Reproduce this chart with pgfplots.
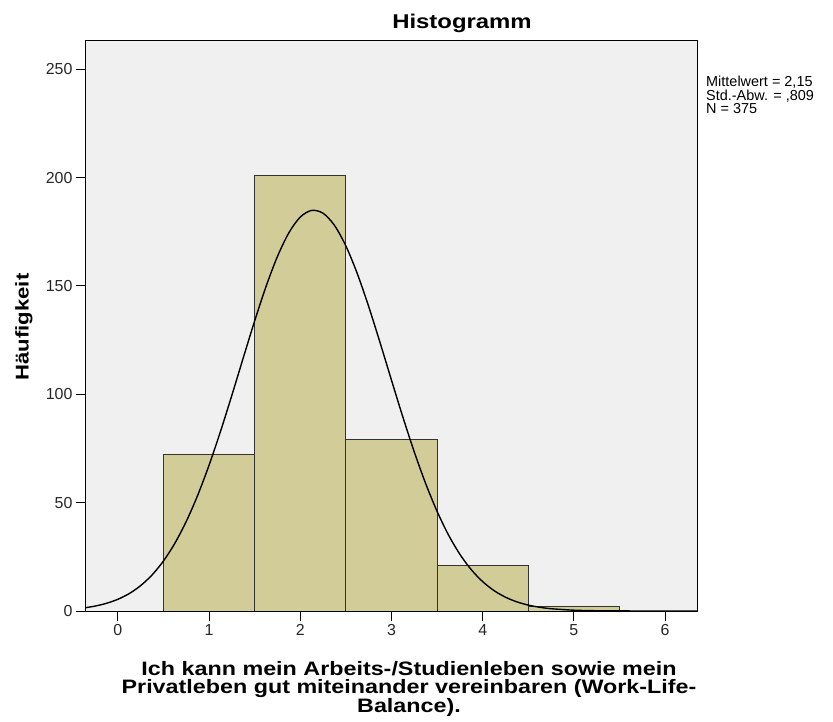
\documentclass[border=0pt]{standalone}
\usepackage{fontspec}
\setmainfont{Liberation Sans}
\usepackage{pgfplots}
\pgfplotsset{compat=1.18}

\definecolor{barfill}{RGB}{210,205,152}
\definecolor{plotbg}{RGB}{240,240,240}

\begin{document}
\begin{tikzpicture}
\begin{axis}[
    scale only axis,
    width=611bp, height=570bp,
    xmin=-0.35, xmax=6.35,
    ymin=0, ymax=263,
    axis background/.style={fill=plotbg},
    axis line style={black, line width=1bp},
    xtick={0,1,...,6}, ytick={0,50,...,250},
    tick align=outside, tick pos=left,
    major tick length=10bp,
    tick style={black, line width=1bp},
    tick label style={font=\fontsize{16}{18}\selectfont, text=black!85},
    /pgf/number format/assume math mode=true,
    clip=true,
]
% Haeufigkeiten
\addplot[ybar, bar width=1, bar shift=0, fill=barfill, draw=black!80, line width=1bp]
  coordinates {(1,72) (2,201) (3,79) (4,21) (5,2)};
% Normalverteilungskurve (M = 2,15; SD = 0,809; N = 375)
\addplot[smooth, black, line width=1.4bp, no marks] coordinates {
  (-0.35,1.56) (-0.25,2.27) (-0.125,3.55) (0,5.41) (0.125,8.06) (0.25,11.73)
  (0.375,16.66) (0.5,23.11) (0.625,31.29) (0.75,41.37) (0.875,53.41)
  (1.0,67.34) (1.125,82.87) (1.25,99.60) (1.375,116.87) (1.5,133.91)
  (1.625,149.82) (1.75,163.65) (1.875,174.55) (2.0,181.78) (2.125,184.84)
  (2.25,183.52) (2.375,177.91) (2.5,168.41) (2.625,155.65) (2.75,140.46)
  (2.875,123.76) (3.0,106.48) (3.125,89.45) (3.25,73.37) (3.375,58.76)
  (3.5,45.96) (3.625,35.08) (3.75,26.16) (3.875,19.04) (4.0,13.54)
  (4.125,9.39) (4.25,6.37) (4.375,4.21) (4.5,2.72) (4.625,1.72)
  (4.75,1.06) (5.0,0.37) (5.25,0.12) (5.5,0.04) (5.75,0.01) (6.0,0.0) (6.35,0.0)
};
\end{axis}
\node[font=\fontsize{20}{22}\selectfont\bfseries, xscale=1.2, transform shape,
  anchor=base] at (376bp,582bp) {Histogramm};
\node[font=\fontsize{18.5}{20}\selectfont\bfseries, rotate=90, xscale=1.2, transform shape]
  at (-62bp,284bp) {Häufigkeit};
\node[font=\fontsize{19.5}{18}\selectfont\bfseries, align=center, anchor=north,
  inner sep=0pt, xscale=1.2, transform shape]
  at (323bp,-50bp) {Ich kann mein Arbeits-/Studienleben sowie mein\\
  Privatleben gut miteinander vereinbaren (Work-Life-\\Balance).};
\node[font=\fontsize{14.5}{13.5}\selectfont, align=left, anchor=north west, inner sep=0pt]
  at (620bp,535bp) {Mittelwert = 2,15\\Std.-Abw. = ,809\\N = 375};
\path[use as bounding box] (-86bp,-111bp) rectangle (747bp,611bp);
\end{tikzpicture}
\end{document}
